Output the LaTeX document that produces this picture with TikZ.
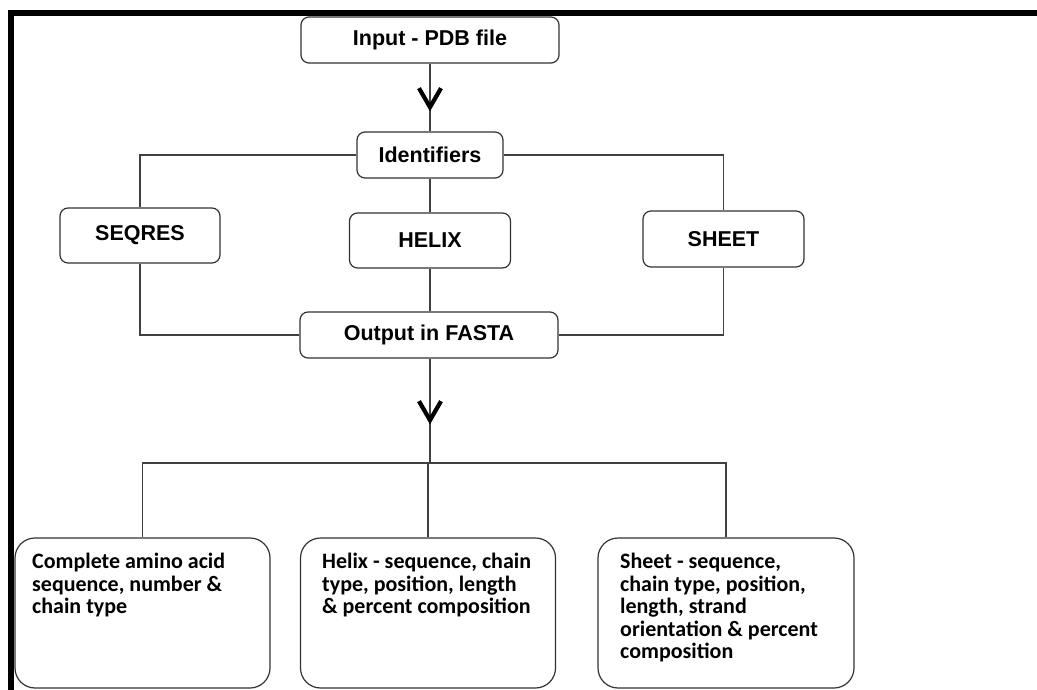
\documentclass[tikz,border=0pt]{standalone}
\usepackage{fontspec}
\setmainfont{Liberation Sans}
\newfontfamily\calfont{Carlito}
\usetikzlibrary{decorations.markings}
\tikzset{
 topbox/.style={draw=black!80, line width=1.2pt, rounded corners=8pt, inner sep=0pt, font=\fontsize{21.5}{24}\selectfont\bfseries},
 botbox/.style={draw=black!80, line width=1.2pt, rounded corners=20pt, inner sep=0pt, minimum width=255pt, minimum height=150pt},
 bottext/.style={anchor=north west, inner sep=0pt, align=left, font=\calfont\fontsize{22}{22.5}\selectfont\bfseries},
 conn/.style={draw=black!75, line width=1.3pt},
 vmark/.style={postaction={decorate}, decoration={markings, mark=at position #1 with {\draw[black, line width=4.2pt, line join=miter, line cap=butt] (-19pt,-11pt) -- (0pt,0pt) -- (-19pt,11pt);}}},
}
\begin{document}
\begin{tikzpicture}[x=1pt,y=-1pt]
\useasboundingbox (0,0) rectangle (1037,690);
\fill[white] (0,0) rectangle (1037,690);
% frame
\fill[black] (8,10) rectangle (1037,16);
\fill[black] (8,10) rectangle (14,690);
% nodes
\node[topbox, minimum width=258pt, minimum height=46pt] (inp) at (430,40) {Input - PDB file};
\node[topbox, minimum width=146pt, minimum height=46pt] (ids) at (430,155) {Identifiers};
\node[topbox, minimum width=160pt, minimum height=55pt] (seq) at (140,235.5) {SEQRES};
\node[topbox, minimum width=161pt, minimum height=55pt] (hel) at (430,240.5) {HELIX};
\node[topbox, minimum width=161pt, minimum height=56pt] (sht) at (723.5,239) {SHEET};
\node[topbox, minimum width=258pt, minimum height=46pt] (out) at (429,335) {Output in FASTA};
\node[botbox] (b1) at (142.5,613) {};
\node[botbox] (b2) at (428,613) {};
\node[botbox, minimum width=256pt] (b3) at (726,613) {};
\node[bottext] (t1) at (32,553) {Complete amino acid\\sequence, number \&\\chain type};
\node[bottext] (t2) at (322,553) {Helix - sequence, chain\\type, position, length\\\& percent composition};
\node[bottext] (t3) at (620,553) {Sheet - sequence,\\chain type, position,\\length, strand\\orientation \& percent\\composition};
% connectors
\draw[conn, vmark=43.6pt] (inp.south) -- (ids.north);
\draw[conn] (ids.west) -| (seq.north);
\draw[conn] (ids.east) -| (sht.north);
\draw[conn] (ids.south) -- (hel.north);
\draw[conn] (hel.south) -- (hel.south |- out.north);
\draw[conn] (seq.south) |- (out.west);
\draw[conn] (sht.south) |- (out.east);
\coordinate (j) at (430,463);
\draw[conn, vmark=61.6pt] (out.south -| j) -- (j);
\draw[conn] (j) -| (b1.north);
\draw[conn] (j) -| (b3.north);
\draw[conn] (j) -| (b2.north);
\end{tikzpicture}
\end{document}
